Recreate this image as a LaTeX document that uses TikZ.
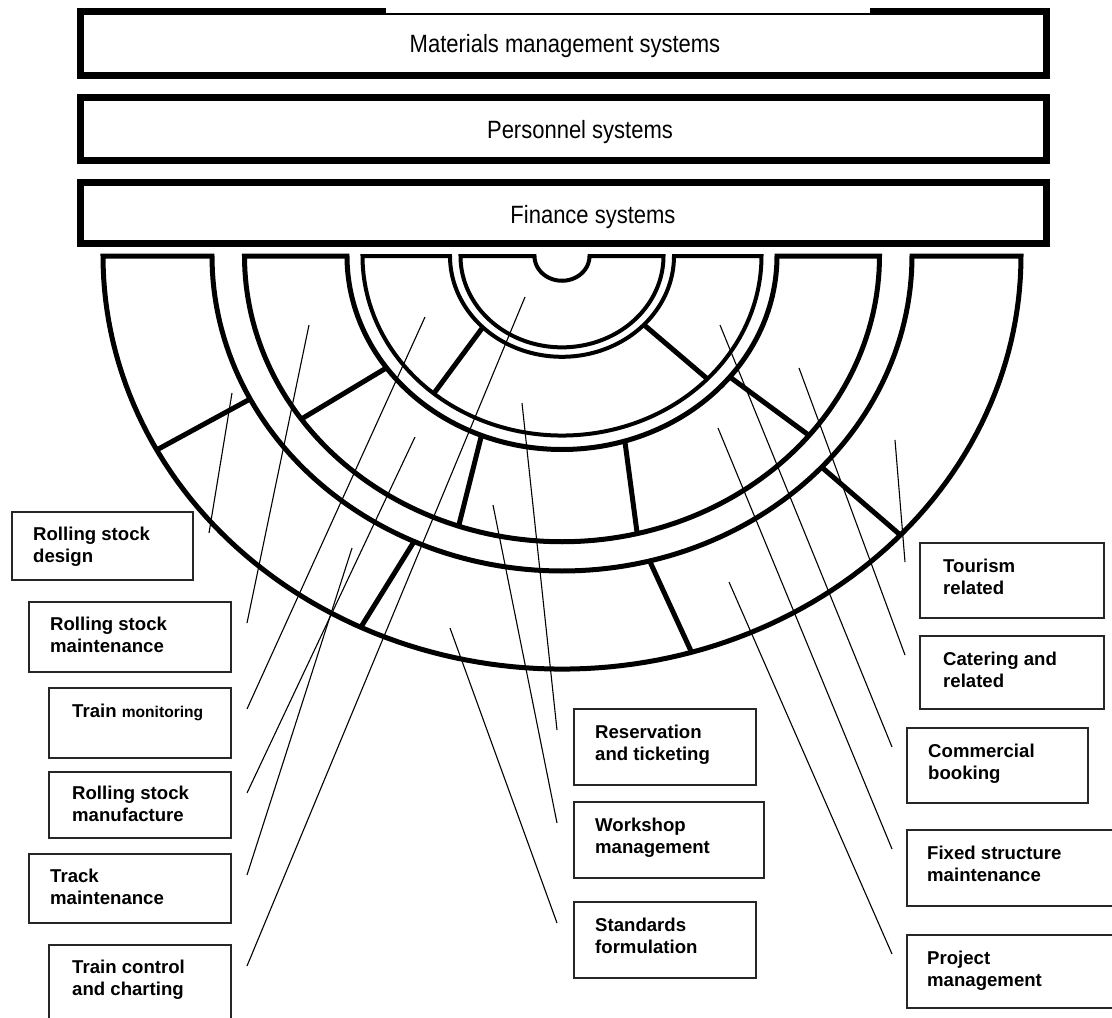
\documentclass[tikz,border=0pt]{standalone}
\usepackage{fontspec}
\setmainfont{Liberation Sans}
\newfontfamily\narrowsans[FakeStretch=0.88]{Liberation Sans}
\usetikzlibrary{calc}

% boxed label: name, left x, top y, width, height, offset of the last baseline, text
\newcommand\itembox[7]{%
  \node[lbox, minimum width=#4pt, minimum height=#5pt] (#1) at (#2,#3) {};
  \node[ltext] (#1-txt) at ($(#1.north west)+(#6)$) {#7};}

\begin{document}
\begin{tikzpicture}[x=1pt, y=-1pt,
  sysbox/.style={draw=black, line width=7pt, outer sep=0pt, inner sep=0pt, anchor=north west},
  systext/.style={inner sep=0pt, anchor=base, font=\narrowsans\fontsize{25}{30}\selectfont},
  ring/.style={draw=black, line width=5pt, line join=miter},
  dbl/.style={draw=black, line width=4pt, line join=miter},
  divider/.style={draw=black, line width=5pt},
  lbox/.style={draw=black!85, line width=1.8pt, outer sep=0pt, inner sep=0pt, anchor=north west},
  ltext/.style={inner sep=0pt, anchor=base west, align=left, font=\fontsize{18.6}{22}\selectfont\bfseries},
  leader/.style={draw=black, line width=1.1pt}]

\useasboundingbox (0,0) rectangle (1112,1018);
\clip (0,0) rectangle (1112,1018);
\fill[white] (0,0) rectangle (1112,1018);

% the three system bars across the top
\node[sysbox, minimum width=966pt, minimum height=63.5pt] (mat) at (80,11.5) {};
\node[sysbox, minimum width=966pt, minimum height=63.5pt] (per) at (80,97) {};
\node[sysbox, minimum width=966pt, minimum height=61pt] (fin) at (80,182) {};
% thin stretch in the top rule of the first bar
\fill[white] (386,7.5) rectangle (870,13);
\node[systext] (mat-txt) at (565,52) {Materials management systems};
\node[systext] (per-txt) at (580,138) {Personnel systems};
\node[systext] (fin-txt) at (593,223) {Finance systems};

% concentric half rings
\begin{scope}[shift={(562,256)}, y=-0.9pt]
  % outer band
  \draw[ring] plot[domain=0:180, samples=121] ({459*cos(\x)},{459*sin(\x)})
    -- plot[domain=180:0, samples=121] ({350*cos(\x)},{350*sin(\x)}) -- cycle;
  % middle band
  \draw[ring] plot[domain=0:180, samples=121] ({317.5*cos(\x)},{317.5*sin(\x)})
    -- plot[domain=180:0, samples=121] ({215*cos(\x)},{215*sin(\x)}) -- cycle;
  % inner band
  \draw[dbl] plot[domain=0:180, samples=121] ({199.5*cos(\x)},{199.5*sin(\x)})
    -- plot[domain=180:0, samples=121] ({112*cos(\x)},{112*sin(\x)}) -- cycle;
  % core with the small notch
  \draw[dbl] plot[domain=0:180, samples=121] ({101.5*cos(\x)},{101.5*sin(\x)})
    -- plot[domain=180:0, samples=61] ({27.5*cos(\x)},{27.5*sin(\x)}) -- cycle;
  % segment dividers: inner radius / outer radius / inner angle / outer angle
  \foreach \ri/\ro/\ai/\ao in {
      350/459/153/152, 350/459/115/116, 350/459/75.5/73.6, 350/459/42.1/42.5,
      215/317.5/144.7/145.2, 215/317.5/112/109, 215/317.5/73/76.3, 215/317.5/38.7/38.9,
      112/199.5/135/130, 112/199.5/43/43.2}
    \draw[divider] ({\ri*cos(\ai)},{\ri*sin(\ai)}) -- ({\ro*cos(\ao)},{\ro*sin(\ao)});
\end{scope}

% left column
\itembox{design}{12}{512}{181}{68}{21,50.5}{Rolling stock\\design}
\itembox{rsmaint}{29}{602}{202}{70}{21,50.5}{Rolling stock\\maintenance}
\itembox{monitor}{49}{688}{182}{70}{23,29}{Train {\fontsize{15.6}{22}\selectfont monitoring}}
\itembox{manuf}{49}{772}{182}{66}{23,49}{Rolling stock\\manufacture}
\itembox{track}{29}{854}{202}{69}{21,50.5}{Track\\maintenance}
\itembox{control}{49}{945}{182}{90}{23,50.5}{Train control\\and charting}

% middle column
\itembox{reserv}{574}{709}{182}{76}{21,51}{Reservation\\and ticketing}
\itembox{workshop}{574}{802}{190}{76}{21,51}{Workshop\\management}
\itembox{standards}{574}{902}{182}{76}{21,51}{Standards\\formulation}

% right column
\itembox{tourism}{920}{543}{184}{75}{23,51}{Tourism\\related}
\itembox{catering}{920}{636}{184}{73}{23,51}{Catering and\\related}
\itembox{commercial}{907}{728}{181}{75}{21,51}{Commercial\\booking}
\itembox{fixed}{907}{830}{220}{76}{20,51}{Fixed structure\\maintenance}
\itembox{project}{907}{935}{220}{73}{20,51}{Project\\management}

% points inside the segments that the labels refer to
\coordinate (design-pt) at (232,393);
\coordinate (rsmaint-pt) at (309,325);
\coordinate (monitor-pt) at (425,317);
\coordinate (manuf-pt) at (415,437);
\coordinate (track-pt) at (352,548);
\coordinate (control-pt) at (525,297);
\coordinate (reserv-pt) at (522,403);
\coordinate (workshop-pt) at (493,505);
\coordinate (standards-pt) at (450,628);
\coordinate (tourism-pt) at (895,440);
\coordinate (catering-pt) at (799,368);
\coordinate (commercial-pt) at (720,325);
\coordinate (fixed-pt) at (718,428);
\coordinate (project-pt) at (729,582);

% leader lines
\foreach \n in {design, rsmaint, monitor, manuf, track, control}
  \draw[leader] ($(\n.north east)+(16,21)$) -- (\n-pt);
\foreach \n in {reserv, workshop, standards}
  \draw[leader] ($(\n.north west)+(-17,21)$) -- (\n-pt);
\foreach \n in {tourism, catering, commercial, fixed, project}
  \draw[leader] ($(\n.north west)+(-15,19)$) -- (\n-pt);

\end{tikzpicture}
\end{document}
